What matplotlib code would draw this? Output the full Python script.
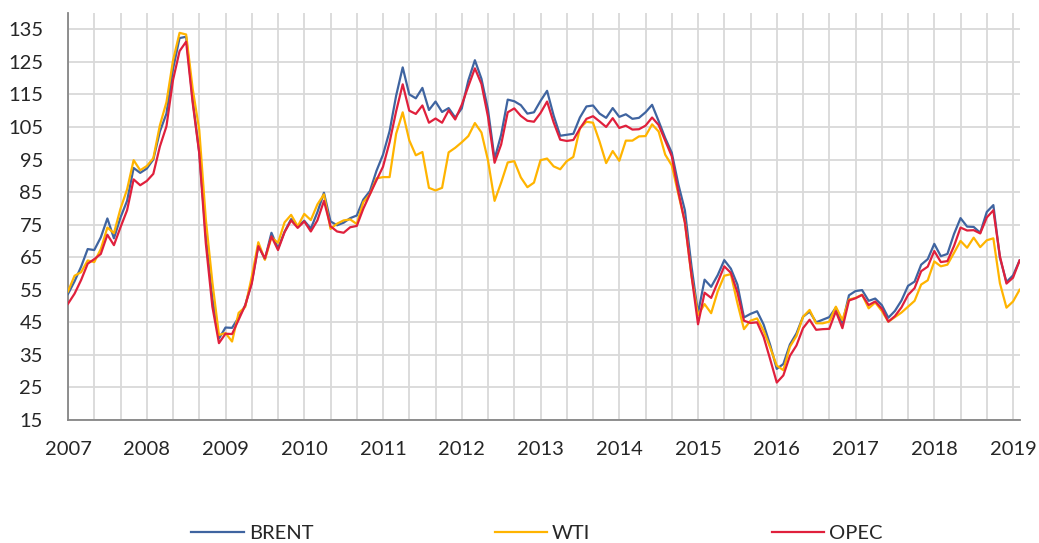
import numpy as np
import matplotlib
matplotlib.use("Agg")
import matplotlib.pyplot as plt
from matplotlib.lines import Line2D

# monthly averages, Jan 2007 - Feb 2019 (USD / barrel)
brent = [
    53.7, 57.6, 62.1, 67.5, 67.2, 71.1, 76.9, 70.8, 77.2, 82.3, 92.4, 90.9,
    92.2, 95.0, 103.6, 109.1, 122.8, 132.3, 132.7, 113.2, 97.2, 71.6, 52.5, 40.0,
    43.4, 43.3, 46.5, 50.2, 57.3, 68.6, 64.4, 72.5, 67.7, 72.8, 76.7, 74.5,
    76.2, 73.8, 78.8, 84.8, 76.0, 74.8, 75.6, 77.0, 77.8, 82.7, 85.3, 91.5,
    96.5, 103.7, 114.6, 123.3, 115.0, 113.8, 117.0, 110.2, 112.8, 109.6, 110.8, 107.9,
    110.7, 119.3, 125.5, 119.8, 110.3, 95.2, 102.6, 113.4, 112.9, 111.7, 109.1, 109.5,
    113.0, 116.1, 108.5, 102.3, 102.6, 102.9, 107.9, 111.3, 111.6, 109.1, 107.8, 110.8,
    108.1, 108.9, 107.5, 107.8, 109.5, 111.8, 106.8, 101.6, 97.1, 87.4, 79.4, 62.3,
    47.8, 58.1, 55.9, 59.5, 64.1, 61.5, 56.6, 46.5, 47.6, 48.4, 44.3, 38.0,
    30.7, 32.2, 38.2, 41.6, 46.7, 48.3, 45.0, 45.8, 46.6, 49.5, 44.7, 53.3,
    54.6, 54.9, 51.6, 52.3, 50.3, 46.4, 48.5, 51.7, 56.2, 57.5, 62.7, 64.4,
    69.1, 65.3, 66.0, 72.1, 77.0, 74.4, 74.3, 72.5, 78.9, 81.0, 64.8, 57.4,
    59.4, 64.0,
]
wti = [
    54.5, 59.3, 60.4, 64.0, 63.5, 67.5, 74.1, 72.4, 79.9, 85.8, 94.8, 91.7,
    93.0, 95.4, 105.5, 112.6, 125.4, 133.9, 133.4, 116.7, 104.1, 76.6, 57.3, 41.1,
    41.7, 39.1, 47.9, 49.7, 59.0, 69.6, 64.2, 71.1, 69.4, 75.7, 78.0, 74.5,
    78.3, 76.4, 81.2, 84.3, 73.7, 75.3, 76.3, 76.6, 75.2, 81.9, 84.3, 89.2,
    89.6, 89.6, 102.9, 109.5, 100.9, 96.3, 97.3, 86.3, 85.5, 86.3, 97.2, 98.6,
    100.3, 102.2, 106.2, 103.3, 94.7, 82.3, 87.9, 94.1, 94.5, 89.5, 86.5, 87.9,
    94.8, 95.3, 92.9, 92.0, 94.5, 95.8, 104.6, 106.6, 106.3, 100.5, 93.9, 97.6,
    94.6, 100.8, 100.8, 102.1, 102.2, 105.8, 103.6, 96.5, 93.2, 84.4, 75.8, 59.3,
    47.2, 50.6, 47.8, 54.5, 59.3, 59.8, 50.9, 42.9, 45.5, 46.2, 42.4, 37.2,
    31.7, 30.3, 37.5, 40.8, 46.7, 48.8, 44.7, 44.7, 45.2, 49.8, 45.7, 52.0,
    52.5, 53.5, 49.3, 51.1, 48.5, 45.2, 46.6, 48.0, 49.8, 51.6, 56.6, 57.9,
    63.7, 62.2, 62.7, 66.3, 70.0, 67.9, 71.0, 68.1, 70.2, 70.8, 57.0, 49.5,
    51.4, 55.0,
]
opec = [
    50.7, 53.8, 58.0, 63.0, 64.4, 66.0, 71.9, 68.7, 74.2, 79.4, 88.9, 87.1,
    88.4, 90.6, 99.0, 105.2, 119.4, 128.3, 131.2, 112.4, 96.9, 69.2, 49.8, 38.6,
    41.5, 41.4, 45.8, 50.2, 56.9, 68.4, 64.6, 71.4, 67.2, 72.7, 76.3, 74.0,
    76.0, 72.9, 76.3, 82.3, 74.5, 72.9, 72.5, 74.2, 74.6, 79.9, 84.3, 88.6,
    92.8, 100.3, 109.8, 118.1, 110.0, 109.0, 111.6, 106.3, 107.6, 106.3, 110.1, 107.3,
    111.8, 117.5, 123.0, 118.2, 108.1, 94.0, 99.6, 109.5, 110.7, 108.4, 106.9, 106.6,
    109.3, 112.8, 106.4, 101.1, 100.7, 101.0, 104.5, 107.5, 108.3, 106.7, 105.0, 107.7,
    104.7, 105.4, 104.2, 104.3, 105.4, 107.9, 105.6, 100.8, 96.0, 85.1, 75.6, 59.5,
    44.4, 54.1, 52.5, 57.3, 62.2, 60.2, 54.2, 45.5, 44.8, 45.0, 40.5, 33.6,
    26.5, 28.7, 34.7, 37.9, 43.2, 45.8, 42.7, 42.9, 43.0, 48.4, 43.2, 51.7,
    52.4, 53.4, 50.3, 51.4, 49.2, 45.2, 46.9, 49.6, 53.4, 55.5, 60.7, 62.1,
    66.9, 63.5, 63.8, 68.4, 74.1, 73.2, 73.3, 72.3, 77.2, 79.4, 65.3, 56.9,
    58.7, 64.0,
]
years = [str(y) for y in range(2007, 2020)]
yticks = list(range(15, 136, 10))

plt.rcParams['font.family'] = ['Lato', 'DejaVu Sans']

fig = plt.figure(figsize=(10.39, 5.43), dpi=100)
ax = fig.add_axes([68 / 1039, 1 - 420 / 543, (1019.6 - 68) / 1039, 407 / 543])

x = np.arange(len(brent))
ax.plot(x, brent, color='#3F64A0', lw=1.6, label='BRENT', zorder=3)
ax.plot(x, wti, color='#FFB400', lw=1.6, label='WTI', zorder=3)
ax.plot(x, opec, color='#E0203C', lw=1.6, label='OPEC', zorder=4)

ax.set_xlim(0, len(brent) - 1)
ax.set_ylim(15, 140)
ax.set_yticks(yticks)
ax.set_xticks(np.arange(0, 145, 12))
ax.set_xticklabels(years)
ax.set_xticks(np.arange(0, 145, 4), minor=True)

ax.grid(True, which='both', axis='x', color='#D9D9D9', lw=1.3, zorder=0)
ax.grid(True, which='major', axis='y', color='#D9D9D9', lw=1.3, zorder=0)
ax.set_axisbelow(True)

for s in ['top', 'right']:
    ax.spines[s].set_visible(False)
for s in ['left', 'bottom']:
    ax.spines[s].set_color('#868686')
    ax.spines[s].set_linewidth(1.3)

ax.tick_params(axis='both', which='both', length=0, labelsize=14.5, colors='#262626')
ax.tick_params(axis='x', pad=15)
ax.tick_params(axis='y', pad=18)

handles = [Line2D([], [], color=c, lw=1.6) for c in ['#3F64A0', '#FFB400', '#E0203C']]
fig.legend(handles, ['BRENT', 'WTI', 'OPEC'], loc='center', ncol=3,
           bbox_to_anchor=(537 / 1039, 1 - 533 / 543), frameon=False,
           fontsize=14.5, handlelength=2.6, handletextpad=0.25, columnspacing=9.0,
           labelcolor='#262626')

fig.savefig('out.png', dpi=100)
